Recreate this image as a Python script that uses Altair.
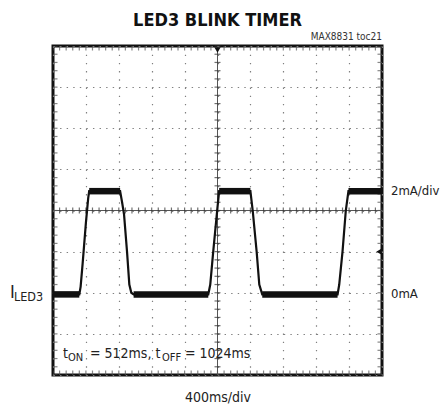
import altair as alt
import pandas as pd

# ---- data (in screen divisions: x 0..10 at 400 ms/div, y -4..4) ----
time_div = [0.00, 0.80, 0.84, 0.90, 1.00, 1.07, 1.10,
            2.04, 2.10, 2.16, 2.25, 2.32, 2.38, 2.45,
            4.72, 4.78, 4.87, 4.99, 5.05,
            6.00, 6.07, 6.19, 6.27, 6.36,
            8.65, 8.70, 8.80, 8.90, 8.98, 10.00]
current_div = [-2.04, -2.04, -1.85, -1.30, -0.30, 0.30, 0.47,
               0.47, 0.20, -0.10, -1.00, -1.80, -2.00, -2.04,
               -2.04, -1.80, -1.00, 0.00, 0.47,
               0.47, 0.00, -1.00, -1.80, -2.04,
               -2.04, -1.80, -1.00, 0.00, 0.47, 0.47]
plateau_start = [0.00, 1.10, 2.45, 5.05, 6.36, 8.98]
plateau_end = [0.80, 2.04, 4.72, 6.00, 8.65, 10.00]
plateau_level = [-2.04, 0.47, -2.04, 0.47, -2.04, 0.47]

right_labels = ["2mA/div", "0mA"]
right_label_levels = [0.47, -2.04]

major_x = list(range(0, 11))
major_y = list(range(-4, 5))
minor_x = [round(i * 0.2, 2) for i in range(51)]
minor_y = [round(-4 + i * 0.2, 2) for i in range(41)]

FONT = "DejaVu Sans Condensed, Roboto, sans-serif"

xs = alt.Scale(domain=[0, 10], nice=False, zero=False)
ys = alt.Scale(domain=[-4, 4], nice=False, zero=False)
x_axis = alt.Axis(values=major_x, grid=True, gridDash=[1.4, 6.8], gridColor="#808080",
                  gridWidth=1.2, labels=False, ticks=False, domain=False,
                  title="400ms/div", titleFont=FONT, titleFontSize=14,
                  titleFontWeight="normal", titleColor="#222", titlePadding=15)
y_axis = alt.Axis(values=major_y, grid=True, gridDash=[1.4, 5.18], gridColor="#808080",
                  gridWidth=1.2, labels=False, ticks=False, domain=False, title=None)


def X(field="x"):
    return alt.X(f"{field}:Q", scale=xs, axis=x_axis)


def Y(field="y"):
    return alt.Y(f"{field}:Q", scale=ys, axis=y_axis)


trace_df = pd.DataFrame({"x": time_div, "y": current_div, "i": range(len(time_div))})
plat_df = pd.DataFrame({"x": plateau_start, "x2": plateau_end, "y": plateau_level})

trace = alt.Chart(trace_df).mark_line(color="#111", strokeWidth=2.2).encode(
    x=X(), y=Y(), order="i:Q")
bands = alt.Chart(plat_df).mark_rule(color="#111", strokeWidth=6.5).encode(
    x=X(), x2="x2:Q", y=Y())

center_v = alt.Chart(pd.DataFrame({"x": [5]})).mark_rule(color="#555", strokeWidth=1).encode(x=X())
center_h = alt.Chart(pd.DataFrame({"y": [0]})).mark_rule(color="#555", strokeWidth=1).encode(y=Y())

vt_df = pd.DataFrame({"x": minor_x, "y": [0] * len(minor_x)})
ht_df = pd.DataFrame({"y": minor_y, "x": [5] * len(minor_y)})
ticks_v = alt.Chart(vt_df).mark_tick(orient="vertical", size=6, thickness=1.2, color="#333").encode(x=X(), y=Y())
ticks_h = alt.Chart(ht_df).mark_tick(orient="horizontal", size=6, thickness=1.2, color="#333").encode(x=X(), y=Y())

edge_v_df = pd.DataFrame({"x": minor_x * 2, "y": [4] * len(minor_x) + [-4] * len(minor_x)})
edge_h_df = pd.DataFrame({"y": minor_y * 2, "x": [0] * len(minor_y) + [10] * len(minor_y)})
edge_v = alt.Chart(edge_v_df).mark_tick(orient="vertical", size=9, thickness=1.2, color="#555", clip=True).encode(x=X(), y=Y())
edge_h = alt.Chart(edge_h_df).mark_tick(orient="horizontal", size=9, thickness=1.2, color="#555", clip=True).encode(x=X(), y=Y())

trig = alt.Chart(pd.DataFrame({"x": [5], "y": [4]})).mark_point(
    shape="triangle-down", filled=True, size=40, color="#111", opacity=1, yOffset=4).encode(x=X(), y=Y())
gnd = alt.Chart(pd.DataFrame({"x": [10], "y": [-1]})).mark_point(
    shape="triangle-left", filled=True, size=40, color="#111", opacity=1, xOffset=-3).encode(x=X(), y=Y())

rl_df = pd.DataFrame({"x": [10] * 2, "y": right_label_levels, "t": right_labels})
rlabels = alt.Chart(rl_df).mark_text(align="left", baseline="middle", dx=9, font=FONT,
                                     fontSize=13, color="#222").encode(x=X(), y=Y(), text="t:N")

ll_df = pd.DataFrame({"x": [0], "y": [-2.04]})
lab_I = alt.Chart(ll_df).mark_text(text="I", align="left", baseline="alphabetic", dx=-43, dy=4,
                                   font=FONT, fontSize=18, color="#222").encode(x=X(), y=Y())
lab_sub = alt.Chart(ll_df).mark_text(text="LED3", align="left", baseline="alphabetic", dx=-39, dy=7,
                                     font=FONT, fontSize=12.5, color="#222").encode(x=X(), y=Y())

ann_df = pd.DataFrame({"x": [0], "y": [-4]})
pieces = [("t", 10, -17, 14), ("ON", 15, -14, 11), ("= 512ms, t", 37, -17, 14),
          ("OFF", 109, -14, 11), ("= 1024ms", 132, -17, 14)]
ann_layers = [
    alt.Chart(ann_df).mark_text(text=t, align="left", baseline="alphabetic", dx=dx, dy=dy,
                                font=FONT, fontSize=fs, color="#222").encode(x=X(), y=Y())
    for t, dx, dy, fs in pieces
]

tag = alt.Chart(pd.DataFrame({"x": [10], "y": [4]})).mark_text(
    text="MAX8831 toc21", align="right", baseline="middle", dy=-9.5, font=FONT,
    fontSize=10, color="#333").encode(x=X(), y=Y())

title = alt.Chart(pd.DataFrame({"x": [5], "y": [4]})).mark_text(
    text="LED3 BLINK TIMER", align="center", baseline="alphabetic", dy=-20, font=FONT,
    fontSize=18, fontWeight=900, color="#111").encode(x=X(), y=Y())

chart = alt.layer(
    center_v, center_h, ticks_v, ticks_h, edge_v, edge_h,
    bands, trace, trig, gnd, rlabels, lab_I, lab_sub, tag, title, *ann_layers
).properties(
    width=329, height=329,
    autosize="none",
    padding={"left": 45, "top": 38, "right": 58, "bottom": 32},
).configure_view(stroke="#111", strokeWidth=3)

chart.save("out.html", embed_options={"renderer": "svg", "actions": False})
